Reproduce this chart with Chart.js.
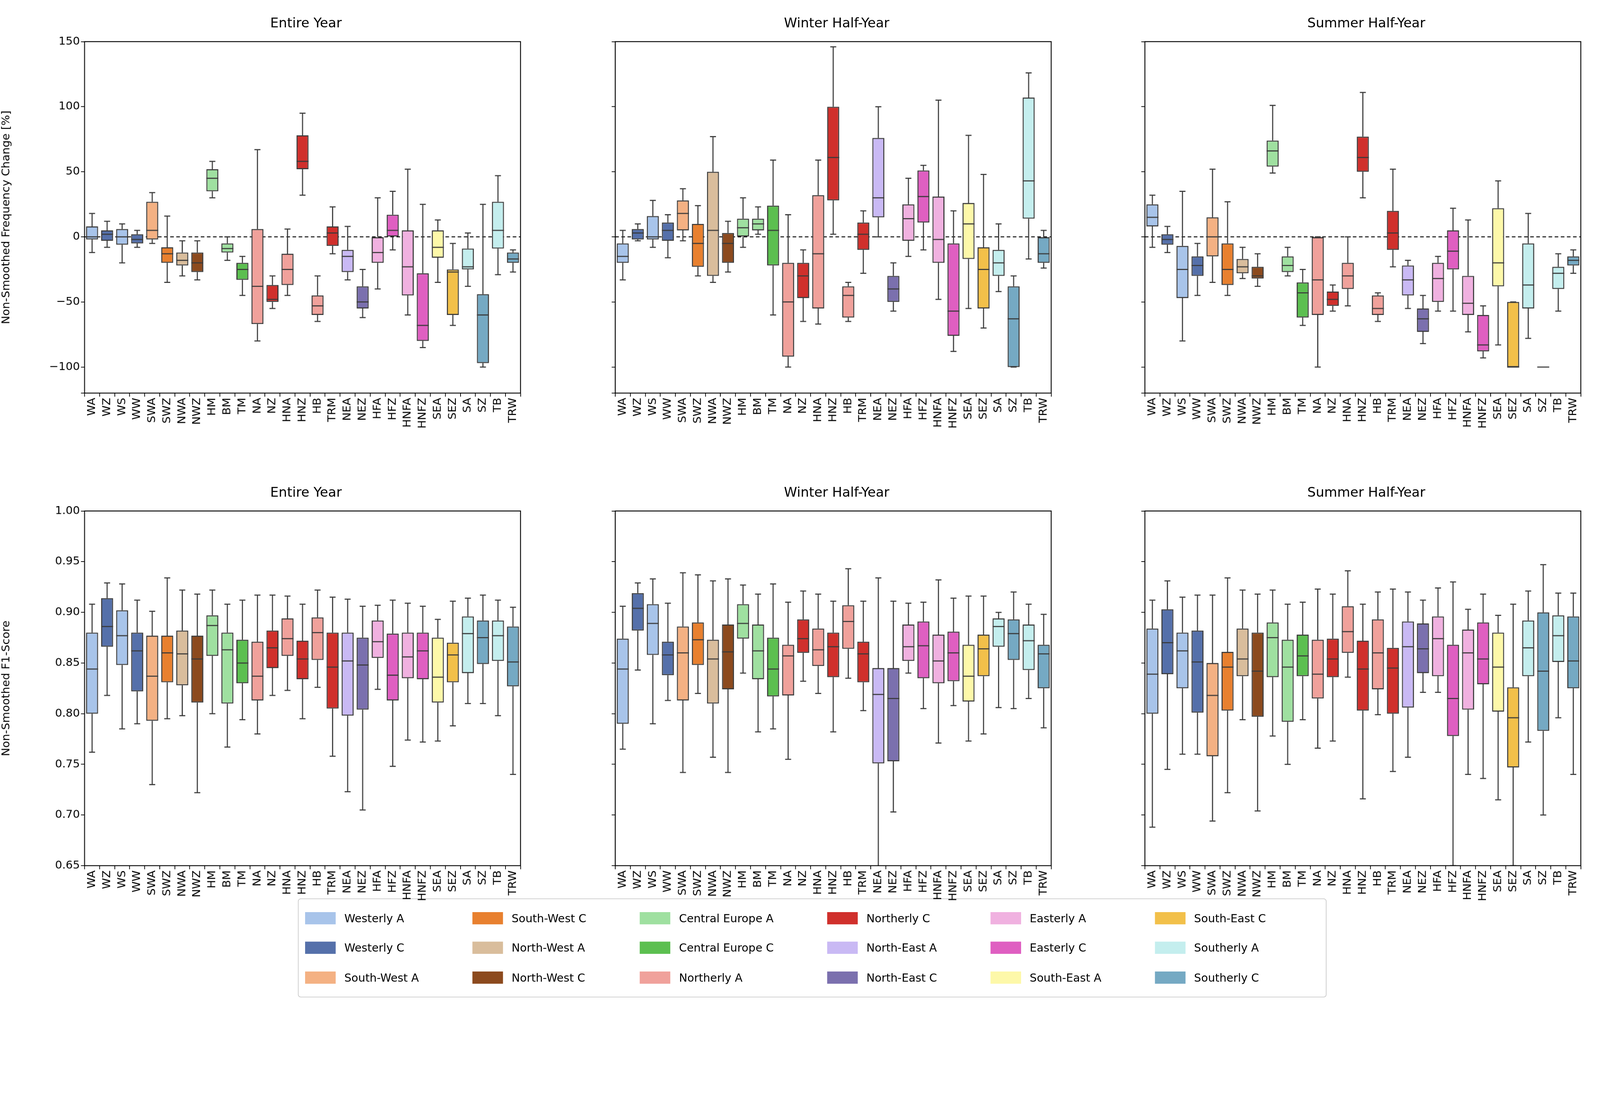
<!DOCTYPE html>
<html><head><meta charset="utf-8">
<script src="https://cdn.jsdelivr.net/npm/chart.js@4.4.1/dist/chart.umd.min.js"></script>
<style>
html,body{margin:0;background:#fff;overflow:hidden;}
#page{position:absolute;left:0;top:0;width:4447px;height:2802px;transform-origin:0 0;font-family:"DejaVu Sans",sans-serif;}
canvas{position:absolute;}
.ttl{position:absolute;font-size:37px;color:#000;text-align:center;}
#legend{position:absolute;left:828px;top:2496px;width:2859px;height:275px;border:2px solid #ccc;border-radius:8px;box-sizing:border-box;
 display:grid;grid-template-rows:repeat(3,1fr);grid-auto-flow:column;padding:12px 18px;font-size:31px;}
#legend div{display:flex;align-items:center;}
#legend span{display:inline-block;width:85px;height:34px;margin-right:24px;}
</style></head><body>
<div id="page"><div id="legend"></div></div>
<script>
const page = document.getElementById('page');
const fit = Math.min(window.innerWidth / 4447, window.innerHeight / 2802);
page.style.transform = 'scale(' + fit + ')';

// categories (weather types)
const categories = ['WA','WZ','WS','WW','SWA','SWZ','NWA','NWZ','HM','BM','TM','NA','NZ','HNA','HNZ','HB','TRM','NEA','NEZ','HFA','HFZ','HNFA','HNFZ','SEA','SEZ','SA','SZ','TB','TRW'];
const groupOf = [0,1,0,1,2,3,4,5,6,6,7,8,9,8,9,8,9,10,11,12,13,12,13,14,15,16,17,16,17];
const groupNames = ['Westerly A','Westerly C','South-West A','South-West C','North-West A','North-West C','Central Europe A','Central Europe C','Northerly A','Northerly C','North-East A','North-East C','Easterly A','Easterly C','South-East A','South-East C','Southerly A','Southerly C'];
const groupColors = ['#a8c4ea','#5570aa','#f4b183','#e8802f','#d9bd9c','#8c4a1e','#9fe0a0','#5cbf50','#f0a19b','#d0302c','#c9b9f4','#7b70ae','#f0b1e0','#df5fc1','#fdf8a9','#f2c04a','#c4eeee','#75a9c3'];
const titles = ['Entire Year','Winter Half-Year','Summer Half-Year'];

// [min, q1, median, q3, max] per category
const freqEntire = [[-12,-2,0,8,18],[-8,-3,2,5,12],[-20,-6,0,6,10],[-8,-5,-2,2,5],[-5,-2,5,27,34],[-35,-20,-13,-8,16],[-30,-22,-18,-12,-3],[-33,-27,-20,-12,-3],[30,35,45,52,58],[-18,-12,-9,-5,0],[-45,-33,-25,-20,-15],[-80,-67,-38,6,67],[-55,-50,-48,-37,-30],[-45,-37,-25,-13,6],[32,52,58,78,95],[-65,-60,-53,-45,-30],[-13,-7,3,8,23],[-33,-27,-15,-10,8],[-62,-55,-50,-38,-25],[-40,-20,-12,0,30],[-10,0,5,17,35],[-60,-45,-23,5,52],[-85,-80,-68,-28,25],[-35,-16,-8,5,13],[-68,-60,-27,-25,-5],[-38,-25,-23,-9,3],[-100,-97,-60,-44,25],[-29,-9,5,27,47],[-27,-20,-17,-12,-10]];
const freqWinter = [[-33,-20,-15,-5,5],[-3,-2,3,6,10],[-8,-2,0,16,28],[-16,-3,5,11,17],[-3,5,18,28,37],[-30,-23,-5,10,24],[-35,-30,5,50,77],[-27,-20,-5,3,12],[-8,0,7,14,30],[2,5,10,14,23],[-60,-22,5,24,59],[-100,-92,-50,-20,17],[-65,-47,-30,-20,-10],[-67,-55,-13,32,59],[2,28,61,100,146],[-65,-62,-45,-38,-35],[-28,-10,2,11,20],[0,15,30,76,100],[-57,-50,-40,-30,-20],[-15,-3,14,25,45],[-10,11,31,51,55],[-48,-20,-2,31,105],[-88,-76,-57,-5,20],[-55,-17,10,26,78],[-70,-55,-25,-8,48],[-42,-30,-20,-10,10],[-100,-100,-63,-38,-30],[-17,14,43,107,126],[-24,-20,-13,0,5]];
const freqSummer = [[-8,8,15,25,32],[-12,-6,-2,2,8],[-80,-47,-25,-7,35],[-45,-30,-22,-15,-5],[-35,-15,0,15,52],[-45,-37,-25,-5,27],[-32,-28,-23,-17,-8],[-38,-32,-30,-23,-13],[49,54,66,74,101],[-30,-27,-22,-15,-8],[-68,-62,-43,-35,-25],[-100,-60,-33,0,0],[-57,-53,-48,-42,-37],[-53,-40,-30,-20,0],[30,50,61,77,111],[-65,-60,-55,-45,-43],[-23,-10,3,20,52],[-55,-45,-33,-22,-18],[-82,-73,-63,-55,-45],[-57,-50,-32,-20,-15],[-57,-25,-11,5,22],[-73,-60,-51,-30,13],[-93,-88,-83,-60,-53],[-83,-38,-20,22,43],[-100,-100,-100,-50,-50],[-78,-55,-37,-5,18],[-100,-100,-100,-100,-100],[-57,-40,-28,-23,-13],[-28,-22,-18,-15,-10]];
const f1Entire = [[.762,.800,.844,.880,.908],[.818,.866,.886,.914,.929],[.785,.848,.877,.902,.928],[.79,.822,.862,.880,.912],[.730,.793,.837,.877,.901],[.795,.831,.860,.877,.934],[.798,.828,.859,.882,.922],[.722,.811,.854,.877,.918],[.800,.857,.887,.897,.922],[.767,.810,.863,.880,.908],[.794,.830,.850,.873,.912],[.780,.813,.837,.871,.917],[.818,.845,.865,.882,.917],[.823,.857,.874,.894,.916],[.795,.834,.854,.872,.908],[.826,.853,.880,.895,.922],[.758,.805,.846,.880,.915],[.723,.798,.852,.880,.913],[.705,.804,.848,.875,.906],[.824,.855,.871,.892,.907],[.748,.813,.838,.879,.912],[.774,.835,.856,.880,.909],[.772,.834,.862,.880,.906],[.773,.811,.836,.875,.893],[.788,.831,.858,.870,.911],[.810,.840,.879,.896,.914],[.810,.849,.875,.892,.917],[.798,.852,.877,.892,.912],[.740,.827,.851,.886,.905]];
const f1Winter = [[.765,.790,.844,.874,.906],[.843,.882,.904,.919,.929],[.79,.858,.889,.908,.933],[.813,.838,.858,.871,.909],[.742,.813,.860,.886,.939],[.82,.848,.873,.890,.937],[.757,.810,.854,.873,.931],[.742,.824,.861,.888,.933],[.840,.874,.889,.908,.927],[.782,.834,.862,.888,.918],[.785,.817,.844,.875,.928],[.755,.818,.857,.868,.910],[.832,.860,.874,.893,.921],[.82,.847,.863,.884,.918],[.782,.836,.866,.880,.911],[.835,.864,.891,.907,.943],[.803,.831,.859,.871,.911],[.64,.751,.819,.845,.934],[.703,.753,.815,.845,.911],[.840,.852,.866,.888,.909],[.805,.835,.867,.891,.910],[.771,.830,.852,.878,.932],[.808,.832,.860,.881,.914],[.773,.812,.837,.868,.916],[.780,.837,.864,.878,.916],[.806,.866,.886,.894,.900],[.805,.853,.879,.893,.920],[.815,.843,.872,.888,.908],[.786,.825,.859,.868,.898]];
const f1Summer = [[.688,.800,.839,.884,.912],[.745,.839,.870,.903,.931],[.760,.825,.862,.880,.915],[.760,.801,.851,.882,.917],[.694,.758,.818,.850,.917],[.722,.803,.846,.861,.934],[.794,.837,.854,.884,.922],[.704,.797,.842,.880,.918],[.778,.836,.875,.890,.922],[.750,.792,.846,.873,.908],[.794,.837,.857,.878,.910],[.766,.815,.839,.873,.923],[.773,.836,.854,.874,.918],[.836,.860,.881,.906,.941],[.716,.803,.844,.872,.908],[.799,.824,.860,.893,.920],[.743,.800,.845,.865,.923],[.757,.806,.866,.891,.920],[.821,.840,.864,.889,.912],[.821,.837,.874,.896,.924],[.650,.778,.815,.868,.930],[.740,.804,.860,.883,.903],[.736,.829,.854,.890,.918],[.715,.802,.846,.880,.897],[.650,.747,.796,.826,.908],[.772,.837,.865,.892,.921],[.700,.783,.842,.900,.947],[.796,.851,.877,.897,.919],[.740,.825,.852,.896,.919]];

const EDGE = '#3a3a3a';
const colLeft = [235, 1710, 3182];
const axW = 1231;
const rows = [
  {top: 94, h: 998, min: -120, max: 150, step: 50, dec: 0, zero: true, title: 'Non-Smoothed Frequency Change [%]', sets: [freqEntire, freqWinter, freqSummer]},
  {top: 1398, h: 1007, min: 0.65, max: 1.0, step: 0.05, dec: 2, zero: false, title: 'Non-Smoothed F1-Score', sets: [f1Entire, f1Winter, f1Summer]}
];
const YW = 240, XH = 200;

const boxPlugin = {
  id: 'boxes',
  beforeDatasetsDraw(chart) {
    const o = chart.options.plugins.boxes, a = chart.chartArea, y = chart.scales.y, c = chart.ctx;
    if (o.zero) {
      c.save(); c.strokeStyle = '#000'; c.lineWidth = 2.5; c.setLineDash([10, 7]);
      const p = y.getPixelForValue(0);
      c.beginPath(); c.moveTo(a.left, p); c.lineTo(a.right, p); c.stroke(); c.restore();
    }
  },
  afterDatasetsDraw(chart) {
    const o = chart.options.plugins.boxes, a = chart.chartArea, y = chart.scales.y, c = chart.ctx;
    const meta = chart.getDatasetMeta(0);
    c.save();
    c.beginPath(); c.rect(a.left, a.top, a.right - a.left, a.bottom - a.top); c.clip();
    c.strokeStyle = EDGE; c.lineWidth = 3;
    o.stats.forEach((s, i) => {
      const bar = meta.data[i], x = bar.x, hw = bar.width / 4;
      const [mn, q1, md, q3, mx] = s.map(v => y.getPixelForValue(v));
      c.beginPath();
      c.moveTo(x, q3); c.lineTo(x, mx); c.moveTo(x - hw, mx); c.lineTo(x + hw, mx);
      c.moveTo(x, q1); c.lineTo(x, mn); c.moveTo(x - hw, mn); c.lineTo(x + hw, mn);
      c.moveTo(x - bar.width / 2, md); c.lineTo(x + bar.width / 2, md);
      c.stroke();
    });
    c.restore();
    c.save(); c.strokeStyle = '#000'; c.lineWidth = 2.5;
    c.strokeRect(a.left, a.top, a.right - a.left, a.bottom - a.top); c.restore();
  }
};

rows.forEach((r, ri) => {
  r.sets.forEach((stats, ci) => {
    const cv = document.createElement('canvas');
    const w = axW + YW, h = r.h + XH;
    cv.width = w; cv.height = h;
    cv.style.left = (colLeft[ci] - YW) + 'px'; cv.style.top = r.top + 'px';
    cv.style.width = w + 'px'; cv.style.height = h + 'px';
    page.appendChild(cv);
    const t = document.createElement('div');
    t.className = 'ttl'; t.textContent = titles[ci];
    t.style.left = colLeft[ci] + 'px'; t.style.width = axW + 'px'; t.style.top = (r.top - 52) + 'px';
    page.appendChild(t);
    new Chart(cv, {
      type: 'bar',
      data: {
        labels: categories,
        datasets: [{
          data: stats.map(s => [s[1], s[3]]),
          backgroundColor: categories.map((_, i) => groupColors[groupOf[i]]),
          borderColor: EDGE, borderWidth: 3, borderSkipped: false,
          barPercentage: 0.8, categoryPercentage: 1.0
        }]
      },
      options: {
        responsive: false, animation: false, devicePixelRatio: 1,
        layout: {padding: {top: 2, right: 2}},
        plugins: {legend: {display: false}, tooltip: {enabled: false},
          boxes: {stats: stats, zero: r.zero}},
        scales: {
          x: {
            grid: {display: true, drawOnChartArea: false, tickLength: 10, color: '#000', lineWidth: 2},
            border: {display: false},
            ticks: {color: '#000', font: {size: 31, family: 'DejaVu Sans'}, minRotation: 90, maxRotation: 90, autoSkip: false},
            afterFit(s) { s.height = XH; }
          },
          y: {
            min: r.min, max: r.max,
            grid: {display: true, drawOnChartArea: false, tickLength: 10, color: '#000', lineWidth: 2},
            border: {display: false},
            ticks: {display: true, stepSize: r.step, color: ci === 0 ? '#000' : 'rgba(0,0,0,0)',
              font: {size: 31, family: 'DejaVu Sans'},
              callback: v => (Math.abs(v - Math.round(v / r.step) * r.step) < 1e-9 ? (r.dec ? v.toFixed(2) : String(v).replace('-', '\u2212')) : '')},
            title: {display: ci === 0, text: r.title, color: '#000', font: {size: 31, family: 'DejaVu Sans'}},
            afterFit(s) { s.width = YW; }
          }
        }
      },
      plugins: [boxPlugin]
    });
  });
});

const lg = document.getElementById('legend');
groupNames.forEach((n, i) => {
  const d = document.createElement('div');
  d.innerHTML = '<span style="background:' + groupColors[i] + '"></span>' + n;
  lg.appendChild(d);
});
</script>
</body></html>
